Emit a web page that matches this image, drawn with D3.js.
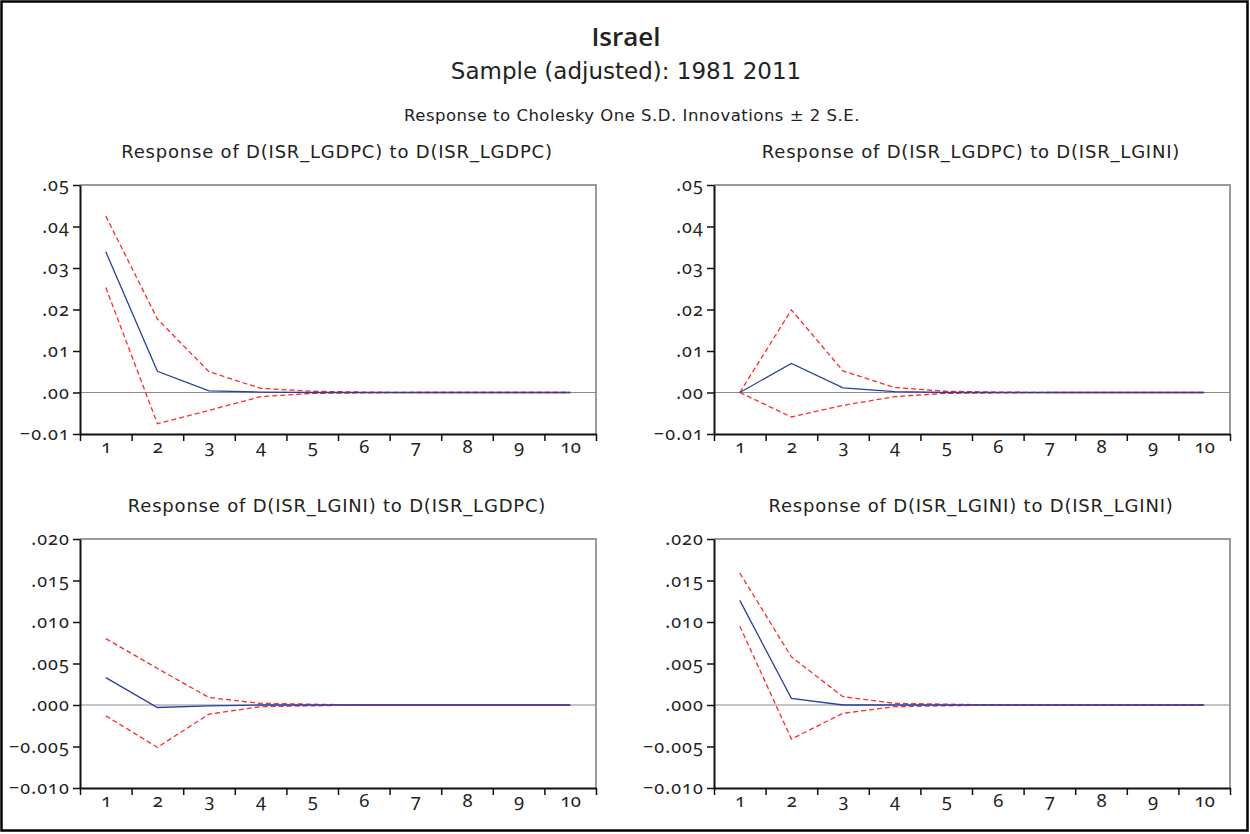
<!DOCTYPE html>
<html>
<head>
<meta charset="utf-8">
<script src="https://cdn.jsdelivr.net/npm/d3@7"></script>
<style>
  body { margin: 0; background: #fff; }
  svg text { font-family: "DejaVu Sans", "Open Sans", sans-serif; fill: #222; }
</style>
</head>
<body>
<svg id="chart" width="1250" height="834"></svg>
<script>
// ---- data ----
const periods = [1, 2, 3, 4, 5, 6, 7, 8, 9, 10];

const titleMain = "Israel";
const titleSample = "Sample (adjusted): 1981 2011";
const titleNote = "Response to Cholesky One S.D. Innovations \u00b1 2 S.E.";

const panelTitles = [
    "Response of D(ISR_LGDPC) to D(ISR_LGDPC)",
    "Response of D(ISR_LGDPC) to D(ISR_LGINI)",
    "Response of D(ISR_LGINI) to D(ISR_LGDPC)",
    "Response of D(ISR_LGINI) to D(ISR_LGINI)"
];

const ticksTop = [-0.01, 0.00, 0.01, 0.02, 0.03, 0.04, 0.05];
const ticksBottom = [-0.010, -0.005, 0.000, 0.005, 0.010, 0.015, 0.020];

// response, upper band, lower band
const gdpOnGdp = [0.0339, 0.0051, 0.0004, 0.0001, 0, 0, 0, 0, 0, 0];
const gdpOnGdpUp = [0.0425, 0.0177, 0.0050, 0.0010, 0.0003, 0.0001, 0, 0, 0, 0];
const gdpOnGdpLo = [0.0253, -0.0075, -0.0043, -0.0010, -0.0002, -0.0001, 0, 0, 0, 0];

const gdpOnGini = [0, 0.0070, 0.0011, 0.0002, 0, 0, 0, 0, 0, 0];
const gdpOnGiniUp = [0, 0.0199, 0.0052, 0.0012, 0.0003, 0.0001, 0, 0, 0, 0];
const gdpOnGiniLo = [0, -0.0059, -0.0031, -0.0010, -0.0002, -0.0001, 0, 0, 0, 0];

const giniOnGdp = [0.0033, -0.0003, -0.0001, 0, 0, 0, 0, 0, 0, 0];
const giniOnGdpUp = [0.0080, 0.0044, 0.0009, 0.0002, 0.0001, 0, 0, 0, 0, 0];
const giniOnGdpLo = [-0.0013, -0.0051, -0.0011, -0.0002, -0.0001, 0, 0, 0, 0, 0];

const giniOnGini = [0.0126, 0.0008, 0.0000, 0, 0, 0, 0, 0, 0, 0];
const giniOnGiniUp = [0.0159, 0.0058, 0.0010, 0.0002, 0.0001, 0, 0, 0, 0, 0];
const giniOnGiniLo = [0.0095, -0.0041, -0.0010, -0.0002, -0.0001, 0, 0, 0, 0, 0];

// ---- layout ----
const svg = d3.select("#chart");
const W = 1250, H = 834;
const plotW = 516, plotH = 249;

svg.append("rect")
    .attr("x", 1.5).attr("y", 1.5)
    .attr("width", W - 4).attr("height", H - 5)
    .attr("fill", "#fff")
    .attr("stroke", "#000")
    .attr("stroke-width", 2.5);

svg.append("text").attr("x", 626).attr("y", 46)
    .attr("text-anchor", "middle").attr("font-size", 26).attr("font-weight", 600)
    .style("font-family", "'Open Sans', sans-serif")
    .text(titleMain);
svg.append("text").attr("x", 626).attr("y", 79)
    .attr("text-anchor", "middle").attr("font-size", 23)
    .text(titleSample);
svg.append("text").attr("x", 632).attr("y", 121)
    .attr("text-anchor", "middle").attr("font-size", 16.5)
    .style("letter-spacing", "0.5px")
    .text(titleNote);

const panels = [
    { x: 80, y: 185, title: panelTitles[0], ticks: ticksTop, fmt: 2, resp: gdpOnGdp, up: gdpOnGdpUp, lo: gdpOnGdpLo },
    { x: 714, y: 185, title: panelTitles[1], ticks: ticksTop, fmt: 2, resp: gdpOnGini, up: gdpOnGiniUp, lo: gdpOnGiniLo },
    { x: 80, y: 539, title: panelTitles[2], ticks: ticksBottom, fmt: 3, resp: giniOnGdp, up: giniOnGdpUp, lo: giniOnGdpLo },
    { x: 714, y: 539, title: panelTitles[3], ticks: ticksBottom, fmt: 3, resp: giniOnGini, up: giniOnGiniUp, lo: giniOnGiniLo }
];

function tickLabel(d, digits) {
    // EViews style: no leading zero, dash for minus
    return d3.format("." + digits + "f")(d).replace(/^(-?)0\./, "$1.").replace("-", "\u2013");
}

function styleTickText(a, size, spacing) {
    a.attr("font-family", "'Noto Sans', sans-serif").attr("font-size", size);
    a.selectAll(".tick text")
        .style("font-family", "'Noto Sans', sans-serif")
        .style("font-variant-numeric", "oldstyle-nums tabular-nums")
        .style("font-size", size + "px")
        .style("letter-spacing", spacing + "px")
        .attr("fill", "#222");
}

panels.forEach(p => {
    const g = svg.append("g").attr("transform", `translate(${p.x},${p.y})`);

    const x = d3.scaleLinear().domain([0.5, 10.5]).range([0, plotW]);
    const y = d3.scaleLinear().domain(d3.extent(p.ticks)).range([plotH, 0]);

    svg.append("text")
        .attr("x", p.x + plotW / 2 - 1)
        .attr("y", p.y - 27)
        .attr("text-anchor", "middle")
        .attr("font-size", 18)
        .style("letter-spacing", "0.8px")
        .text(p.title);

    // grey frame (top + right)
    g.append("path")
        .attr("d", `M0,0H${plotW}V${plotH}`)
        .attr("fill", "none")
        .attr("stroke", "#9a9a9a")
        .attr("stroke-width", 2);

    // zero line
    g.append("line")
        .attr("x1", 0).attr("x2", plotW)
        .attr("y1", y(0)).attr("y2", y(0))
        .attr("stroke", "#8c8c8c")
        .attr("stroke-width", 1.2);

    // y axis
    const yAxis = g.append("g")
        .call(d3.axisLeft(y).tickValues(p.ticks).tickSize(7).tickPadding(3).tickSizeOuter(0)
            .tickFormat(d => tickLabel(d, p.fmt)));
    styleTickText(yAxis, 18, 1.1);

    // x axis: tick marks at period boundaries, labels at period centres
    const xAxis = g.append("g").attr("transform", `translate(0,${plotH})`)
        .call(d3.axisBottom(x).tickValues(d3.range(0.5, 11, 1)).tickSize(7).tickSizeOuter(0).tickFormat(""));
    const xLabels = g.append("g").attr("transform", `translate(0,${plotH})`)
        .call(d3.axisBottom(x).tickValues(periods).tickSize(0).tickPadding(6));
    xLabels.select(".domain").remove();
    styleTickText(xLabels, 18.5, 0);

    [yAxis, xAxis].forEach(a => {
        a.select(".domain").attr("stroke", "#111").attr("stroke-width", 2);
        a.selectAll(".tick line").attr("stroke", "#111").attr("stroke-width", 1.5);
    });

    const line = d3.line()
        .x((d, i) => x(periods[i]))
        .y(d => y(d));

    g.append("path").datum(p.up)
        .attr("d", line).attr("fill", "none")
        .attr("stroke", "#ff2a2a").attr("stroke-width", 1.3)
        .attr("stroke-dasharray", "5,3");
    g.append("path").datum(p.lo)
        .attr("d", line).attr("fill", "none")
        .attr("stroke", "#ff2a2a").attr("stroke-width", 1.3)
        .attr("stroke-dasharray", "5,3");
    g.append("path").datum(p.resp)
        .attr("d", line).attr("fill", "none")
        .attr("stroke", "#2c3f9c").attr("stroke-width", 1.3);
});
</script>
</body>
</html>
